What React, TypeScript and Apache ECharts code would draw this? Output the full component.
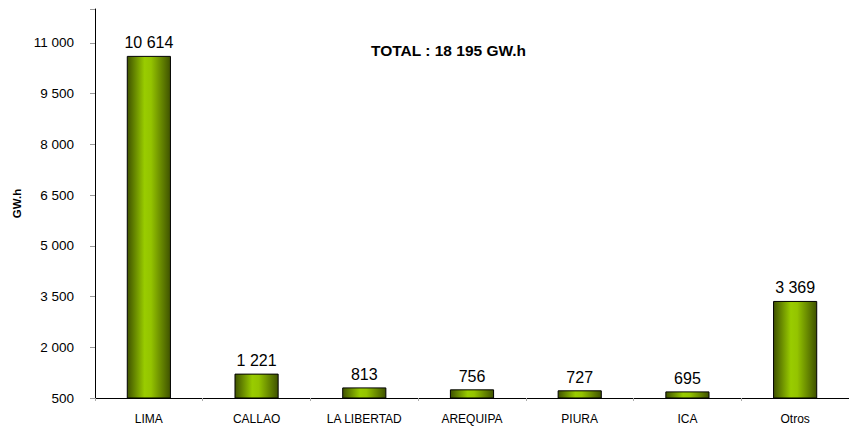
import React, { useEffect, useRef } from "react";
import * as echarts from "echarts";

const categories = ["LIMA", "CALLAO", "LA LIBERTAD", "AREQUIPA", "PIURA", "ICA", "Otros"];
const values = [10614, 1221, 813, 756, 727, 695, 3369];
const totalLabel = "TOTAL : 18 195 GW.h";
const yAxisName = "GW.h";

const fmt = (v: number) => String(Math.round(v)).replace(/\B(?=(\d{3})+(?!\d))/g, " ");

export default function App() {
  const ref = useRef<HTMLDivElement>(null);
  useEffect(() => {
    const chart = echarts.init(ref.current!, undefined, { renderer: "svg" });
    chart.setOption({
      animation: false,
      textStyle: { fontFamily: "Liberation Sans, Arial, sans-serif" },
      grid: { left: 95, right: -2, top: 9, bottom: 35, containLabel: false },
      graphic: [
        {
          type: "text",
          left: 371,
          top: 42,
          style: { text: totalLabel, font: "bold 15.5px Liberation Sans, Arial, sans-serif", fill: "#000" },
        },
      ],
      xAxis: {
        type: "category",
        data: categories,
        axisLine: { lineStyle: { color: "#000", width: 1 } },
        axisTick: { show: true, alignWithLabel: false, length: 3, lineStyle: { color: "#aaa" } },
        axisLabel: { color: "#000", fontSize: 12, margin: 15 },
      },
      yAxis: {
        type: "value",
        min: 500,
        max: 12000,
        interval: 1500,
        name: yAxisName,
        nameLocation: "middle",
        nameRotate: 90,
        nameGap: 72,
        nameTextStyle: { fontWeight: "bold", fontSize: 11.5, color: "#000" },
        splitLine: { show: false },
        axisLine: { show: true, lineStyle: { color: "#000", width: 1 } },
        axisTick: { show: true, length: 5, lineStyle: { color: "#999" } },
        axisLabel: {
          color: "#000",
          fontSize: 13.5,
          margin: 21,
          formatter: (v: number) => (v > 11000 ? "" : fmt(v)),
        },
      },
      series: [
        {
          type: "bar",
          data: values,
          barWidth: "41%",
          itemStyle: {
            borderColor: "#000",
            borderWidth: 1,
            color: new echarts.graphic.LinearGradient(0, 0, 1, 0, [
              { offset: 0, color: "#3f5200" },
              { offset: 0.4, color: "#9c0" },
              { offset: 0.55, color: "#94c400" },
              { offset: 1, color: "#3f5200" },
            ]),
          },
          label: {
            show: true,
            position: "top",
            distance: 5,
            color: "#000",
            fontSize: 16,
            formatter: (p: any) => fmt(p.value),
          },
        },
      ],
    });
    return () => chart.dispose();
  }, []);
  return <div ref={ref} style={{ width: 849, height: 433, position: "absolute", left: 0, top: 0 }} />;
}
